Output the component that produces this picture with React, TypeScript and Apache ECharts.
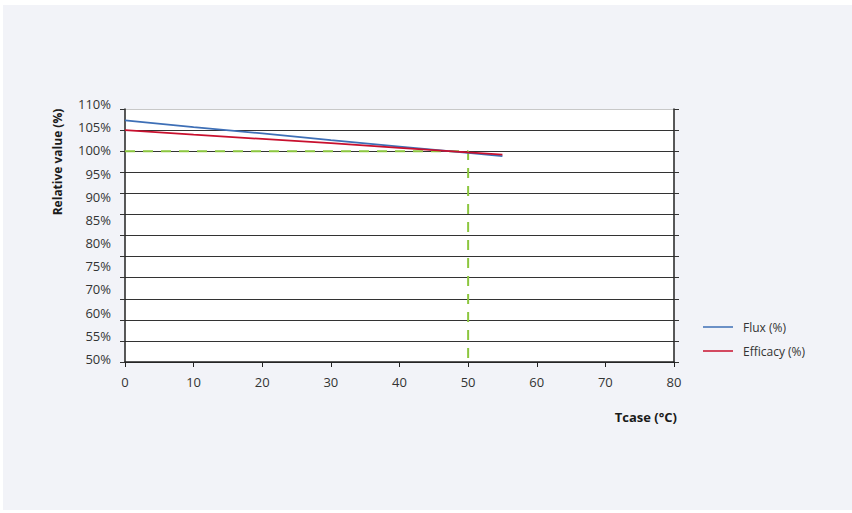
import React, { useEffect, useRef } from "react";
import * as echarts from "echarts";

const temperatures = [0, 10, 20, 30, 40, 50, 55];
const fluxValues = [107.3, 105.7, 104.2, 102.6, 101.1, 99.6, 98.8];
const efficacyValues = [105.0, 103.9, 102.9, 101.9, 100.8, 99.7, 99.2];
const referencePath = [
  [0, 100],
  [50, 100],
  [50, 50],
];
const yTickLabels = ["50%", "55%", "60%", "70%", "75%", "80%", "85%", "90%", "95%", "100%", "105%", "110%"];

const FONT = "'Open Sans', 'Noto Sans', sans-serif";

export default function App() {
  const ref = useRef<HTMLDivElement>(null);
  useEffect(() => {
    if (!ref.current) return;
    const chart = echarts.init(ref.current, null, { renderer: "svg" });
    const gridColors = Array.from({ length: 13 }, (_, i) => (i === 12 ? "#c8c8c8" : "#333333"));
    chart.setOption({
      animation: false,
      backgroundColor: "#ffffff",
      textStyle: { fontFamily: FONT },
      graphic: [
        {
          type: "rect",
          z: -10,
          silent: true,
          shape: { x: 3, y: 5, width: 849, height: 505 },
          style: { fill: "#f2f3f8" },
        },
        {
          type: "rect",
          z: -9,
          silent: true,
          shape: { x: 125, y: 109, width: 549, height: 253 },
          style: { fill: "#ffffff" },
        },
        {
          type: "text",
          x: 57,
          y: 162,
          rotation: Math.PI / 2,
          style: {
            text: "Relative value (%)",
            fontFamily: FONT,
            fontSize: 12,
            fontWeight: "bold",
            fill: "#1a1a1a",
            align: "center",
            verticalAlign: "middle",
          },
        },
      ],
      grid: [
        { left: 125, top: 109, width: 549, height: 253 },
        { left: 125, top: 104, width: 549, height: 255 },
      ],
      legend: {
        orient: "vertical",
        left: 703,
        top: 320,
        padding: 0,
        icon: "rect",
        itemWidth: 30,
        itemHeight: 1.5,
        itemGap: 10,
        data: ["Flux (%)", "Efficacy (%)"],
        textStyle: { fontFamily: FONT, fontSize: 12, color: "#333", padding: [0, 0, 0, 5], lineHeight: 14 },
      },
      xAxis: [
        {
          type: "value",
          gridIndex: 0,
          min: 0,
          max: 80,
          interval: 10,
          axisLine: { show: true, lineStyle: { color: "#222", width: 1.5 } },
          axisTick: { show: true, length: 5, lineStyle: { color: "#222" } },
          splitLine: { show: false },
          axisLabel: { fontFamily: FONT, fontSize: 13, color: "#333", margin: 13 },
          name: "Tcase (°C)",
          nameLocation: "end",
          nameGap: 3,
          nameTextStyle: {
            fontFamily: FONT,
            fontSize: 13,
            fontWeight: "bold",
            color: "#1a1a1a",
            align: "right",
            verticalAlign: "top",
            padding: [48, 0, 0, 0],
          },
        },
        {
          type: "value",
          gridIndex: 1,
          show: false,
        },
      ],
      yAxis: [
        {
          type: "value",
          gridIndex: 0,
          min: 50,
          max: 110,
          interval: 5,
          position: "left",
          axisLine: { show: true, lineStyle: { color: "#222", width: 1.5 } },
          axisTick: { show: true, length: 5, lineStyle: { color: "#333" } },
          axisLabel: { show: false },
          splitLine: { show: true, lineStyle: { color: gridColors, width: 1.2 } },
        },
        {
          type: "value",
          gridIndex: 0,
          min: 50,
          max: 110,
          interval: 5,
          position: "right",
          axisLine: { show: true, lineStyle: { color: "#222", width: 1.5 } },
          axisTick: { show: true, length: 5, lineStyle: { color: "#333" } },
          axisLabel: { show: false },
          splitLine: { show: false },
        },
        {
          type: "category",
          gridIndex: 1,
          data: yTickLabels,
          boundaryGap: false,
          position: "left",
          axisLine: { show: false },
          axisTick: { show: false },
          splitLine: { show: false },
          axisLabel: { fontFamily: FONT, fontSize: 13, color: "#333", margin: 14, interval: 0 },
        },
      ],
      series: [
        {
          name: "Reference",
          type: "line",
          xAxisIndex: 0,
          yAxisIndex: 0,
          data: referencePath,
          symbol: "none",
          silent: true,
          lineStyle: { color: "#8cc63f", width: 2, type: [10, 8] },
          z: 3,
        },
        {
          name: "Flux (%)",
          type: "line",
          xAxisIndex: 0,
          yAxisIndex: 0,
          data: temperatures.map((t, i) => [t, fluxValues[i]]),
          symbol: "none",
          itemStyle: { color: "#3e6fb6" },
          lineStyle: { color: "#3e6fb6", width: 1.8 },
          z: 4,
        },
        {
          name: "Efficacy (%)",
          type: "line",
          xAxisIndex: 0,
          yAxisIndex: 0,
          data: temperatures.map((t, i) => [t, efficacyValues[i]]),
          symbol: "none",
          itemStyle: { color: "#c8102e" },
          lineStyle: { color: "#c8102e", width: 1.8 },
          z: 5,
        },
      ],
    });
    return () => chart.dispose();
  }, []);
  return (
    <div
      ref={ref}
      style={{ position: "absolute", left: 0, top: 0, width: 852, height: 513 }}
    />
  );
}
